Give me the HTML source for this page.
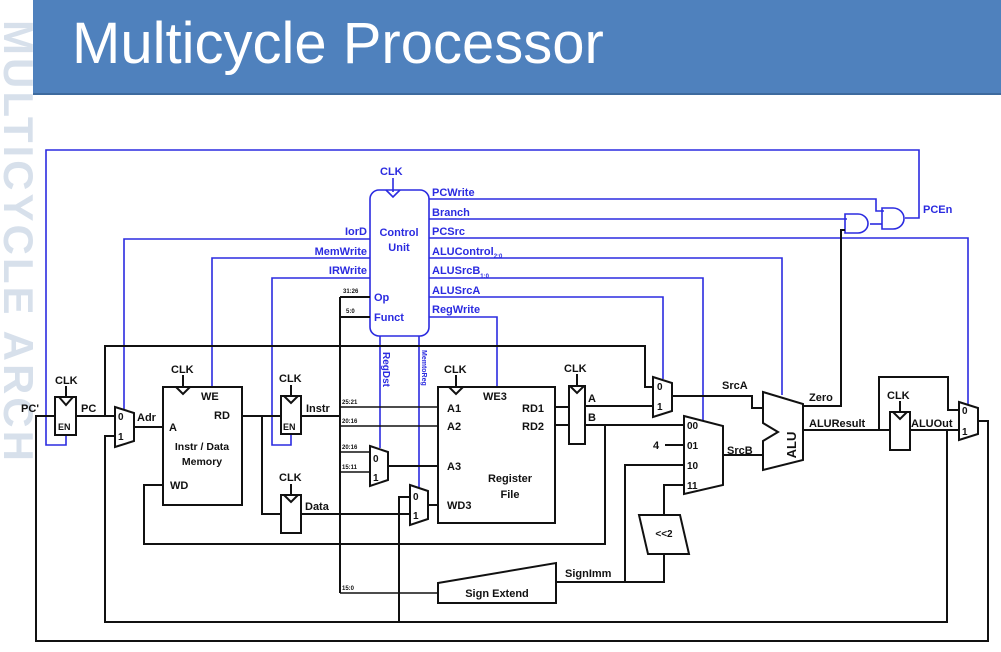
<!DOCTYPE html>
<html><head><meta charset="utf-8"><style>
html,body{margin:0;padding:0;background:#fff;}
svg{display:block;}
text{font-family:"Liberation Sans",Arial,sans-serif;}
</style></head><body>
<svg width="1001" height="652" viewBox="0 0 1001 652" xmlns="http://www.w3.org/2000/svg">
<rect x="0" y="0" width="1001" height="652" fill="#fff"/>
<!-- watermark strip -->
<g opacity="0.35">
<text transform="translate(4,20) rotate(90)" font-size="42" font-weight="bold" fill="#8fa9c8" letter-spacing="3">MULTICYCLE ARCH</text>
</g>
<rect x="33" y="0" width="968" height="95" fill="#4f81bd"/>
<rect x="33" y="93" width="968" height="2" fill="#3d6a9e"/>
<text x="72" y="63" font-size="58" fill="#fff" font-family="Liberation Sans, sans-serif">Multicycle Processor</text>

<g fill="none" stroke="#2b2be0" stroke-width="1.6">
<polyline points="66,435 66,445 46,445 46,150 919,150 919,218 905,218"/>
<polyline points="429,199 876,199 876,211 884,211"/>
<polyline points="429,219 847,219"/>
<polyline points="429,238 968,238 968,405"/>
<polyline points="429,258 782,258 782,395"/>
<polyline points="429,278 703,278 703,421"/>
<polyline points="429,297 663,297 663,379"/>
<polyline points="429,317 497,317 497,387"/>
<polyline points="370,239 124,239 124,409"/>
<polyline points="370,258 212,258 212,387"/>
<polyline points="370,278 272,278 272,445 291,445 291,434"/>
<line x1="380" y1="336" x2="380" y2="448"/>
<line x1="419" y1="336" x2="419" y2="488"/>
<rect x="370" y="190" width="59" height="146" rx="9"/>
<polyline points="386,190 393,197 400,190"/>
<line x1="393" y1="178" x2="393" y2="192"/>
<path d="M845,214 L858,214 A10,9.5 0 0 1 858,233 L845,233 Z"/>
<path d="M882,208 L893,208 A11,10.5 0 0 1 893,229 L882,229 Z"/>
<polyline points="870,224 882,224"/>
</g>

<g font-size="11" fill="#2b2be0" font-weight="bold" style="font-weight:600">
<text x="380" y="175">CLK</text>
<text x="432" y="196">PCWrite</text>
<text x="432" y="216">Branch</text>
<text x="432" y="235">PCSrc</text>
<text x="432" y="255">ALUControl<tspan font-size="6" dy="3">2:0</tspan></text>
<text x="432" y="274">ALUSrcB<tspan font-size="6" dy="4">1:0</tspan></text>
<text x="432" y="294">ALUSrcA</text>
<text x="432" y="313">RegWrite</text>
<text x="367" y="235" text-anchor="end">IorD</text>
<text x="367" y="255" text-anchor="end">MemWrite</text>
<text x="367" y="274" text-anchor="end">IRWrite</text>
<text x="399" y="236" text-anchor="middle" font-weight="bold">Control</text>
<text x="399" y="251" text-anchor="middle" font-weight="bold">Unit</text>
<text x="374" y="301">Op</text>
<text x="374" y="321">Funct</text>
<text transform="translate(383,352) rotate(90)" font-size="10">RegDst</text>
<text transform="translate(422,350) rotate(90)" font-size="7">MemtoReg</text>
<text x="923" y="213" font-size="11">PCEn</text>
</g>

<g fill="none" stroke="#111" stroke-width="2">
<polyline points="978,421 988,421 988,641 36,641 36,416 55,416"/>
<rect x="55" y="397" width="21" height="38"/>
<polyline points="59,397 66,405 73,397"/>
<line x1="66" y1="386" x2="66" y2="398"/>
<polyline points="76,416 115,416"/>
<polyline points="105,416 105,346 645,346 645,387 653,387"/>
<polyline points="947,430 947,622 105,622 105,436 115,436"/>
<polygon points="115,407 134,413 134,441 115,447"/>
<line x1="134" y1="427" x2="163" y2="427"/>
<rect x="163" y="387" width="79" height="118"/>
<polyline points="176,387 183,394 190,387"/>
<line x1="183" y1="375" x2="183" y2="388"/>
<polyline points="163,485 144,485 144,544 605,544 605,425"/>
<polyline points="242,416 281,416"/>
<polyline points="262,416 262,514 281,514"/>
<rect x="281" y="396" width="20" height="38"/>
<polyline points="284,396 291,403 298,396"/>
<line x1="291" y1="385" x2="291" y2="397"/>
<rect x="281" y="495" width="20" height="38"/>
<polyline points="284,495 291,502 298,495"/>
<line x1="291" y1="484" x2="291" y2="496"/>
<polyline points="301,514 410,514"/>
<polyline points="301,416 340,416"/>
<line x1="340" y1="297" x2="340" y2="593"/>
<line x1="340" y1="297" x2="370" y2="297"/>
<line x1="340" y1="317" x2="370" y2="317"/>
<line x1="340" y1="407" x2="438" y2="407" stroke-width="1.5"/>
<line x1="340" y1="426" x2="438" y2="426" stroke-width="1.5"/>
<line x1="340" y1="452" x2="370" y2="452" stroke-width="1.5"/>
<line x1="340" y1="472" x2="370" y2="472" stroke-width="1.5"/>
<line x1="340" y1="593" x2="438" y2="593" stroke-width="1.5"/>
<polygon points="370,446 388,452 388,480 370,486"/>
<line x1="388" y1="466" x2="438" y2="466"/>
<polygon points="410,485 428,491 428,519 410,525"/>
<polyline points="410,497 399,497 399,622"/>
<line x1="428" y1="505" x2="438" y2="505"/>
<rect x="438" y="387" width="117" height="136"/>
<polyline points="449,387 456,394 463,387"/>
<line x1="456" y1="375" x2="456" y2="388"/>
<line x1="555" y1="407" x2="569" y2="407"/>
<line x1="555" y1="425" x2="569" y2="425"/>
<rect x="569" y="386" width="16" height="58"/>
<polyline points="570,386 577,393 584,386"/>
<line x1="577" y1="374" x2="577" y2="387"/>
<line x1="585" y1="406" x2="653" y2="406"/>
<line x1="585" y1="425" x2="684" y2="425"/>
<polygon points="653,377 672,383 672,411 653,417"/>
<polyline points="672,396 752,396 752,408 764,408"/>
<polygon points="684,416 723,426 723,485 684,494"/>
<line x1="665" y1="445" x2="684" y2="445"/>
<polyline points="684,465 625,465 625,582"/>
<polyline points="684,485 664,485 664,515"/>
<polygon points="639,515 680,515 689,554 648,554"/>
<polyline points="664,554 664,582 555,582"/>
<polyline points="723,455 764,455"/>
<polygon points="438,583 556,563 556,603 438,603"/>
<polygon points="763,392 803,404 803,460 763,470 763,441 778,432 763,423"/>
<polyline points="803,406 841,406 841,230 845,230"/>
<line x1="803" y1="430" x2="890" y2="430"/>
<polyline points="879,430 879,377 948,377 948,410 959,410"/>
<rect x="890" y="412" width="20" height="38"/>
<polyline points="893,412 900,419 907,412"/>
<line x1="900" y1="401" x2="900" y2="413"/>
<line x1="910" y1="430" x2="959" y2="430"/>
<polygon points="959,402 978,408 978,434 959,440"/>
</g>

<g font-size="11" fill="#111" style="font-weight:600">
<text x="30" y="412" text-anchor="middle">PC'</text>
<text x="55" y="384">CLK</text>
<text x="58" y="430" font-size="9">EN</text>
<text x="81" y="412">PC</text>
<text x="118" y="420" font-size="10">0</text>
<text x="118" y="440" font-size="10">1</text>
<text x="137" y="421">Adr</text>
<text x="171" y="373">CLK</text>
<text x="201" y="400">WE</text>
<text x="214" y="419">RD</text>
<text x="169" y="431">A</text>
<text x="202" y="450" text-anchor="middle" font-weight="bold" font-size="10.5">Instr / Data</text>
<text x="202" y="465" text-anchor="middle" font-weight="bold" font-size="10.5">Memory</text>
<text x="170" y="489">WD</text>
<text x="279" y="382">CLK</text>
<text x="283" y="430" font-size="9">EN</text>
<text x="306" y="412">Instr</text>
<text x="279" y="481">CLK</text>
<text x="305" y="510">Data</text>
<g font-size="6">
<text x="343" y="293">31:26</text>
<text x="346" y="313">5:0</text>
<text x="342" y="404">25:21</text>
<text x="342" y="423">20:16</text>
<text x="342" y="449">20:16</text>
<text x="342" y="469">15:11</text>
<text x="342" y="590">15:0</text>
</g>
<text x="373" y="462" font-size="10">0</text>
<text x="373" y="481" font-size="10">1</text>
<text x="413" y="500" font-size="10">0</text>
<text x="413" y="519" font-size="10">1</text>
<text x="444" y="373">CLK</text>
<text x="483" y="400">WE3</text>
<text x="447" y="412">A1</text>
<text x="447" y="430">A2</text>
<text x="447" y="470">A3</text>
<text x="447" y="509">WD3</text>
<text x="522" y="412">RD1</text>
<text x="522" y="430">RD2</text>
<text x="510" y="482" text-anchor="middle" font-weight="bold">Register</text>
<text x="510" y="498" text-anchor="middle" font-weight="bold">File</text>
<text x="564" y="372">CLK</text>
<text x="588" y="402">A</text>
<text x="588" y="421">B</text>
<text x="657" y="390" font-size="10">0</text>
<text x="657" y="410" font-size="10">1</text>
<text x="722" y="389">SrcA</text>
<text x="687" y="429" font-size="10">00</text>
<text x="687" y="449" font-size="10">01</text>
<text x="687" y="469" font-size="10">10</text>
<text x="687" y="489" font-size="10">11</text>
<text x="653" y="449">4</text>
<text x="727" y="454">SrcB</text>
<text x="664" y="537" text-anchor="middle" font-size="10">&lt;&lt;2</text>
<text x="497" y="597" text-anchor="middle" font-weight="bold">Sign Extend</text>
<text x="565" y="577">SignImm</text>
<text transform="translate(796,445) rotate(-90)" font-size="13" text-anchor="middle">ALU</text>
<text x="809" y="401">Zero</text>
<text x="809" y="427">ALUResult</text>
<text x="887" y="399">CLK</text>
<text x="911" y="427">ALUOut</text>
<text x="962" y="414" font-size="10">0</text>
<text x="962" y="435" font-size="10">1</text>
</g>
</svg>
</body></html>
